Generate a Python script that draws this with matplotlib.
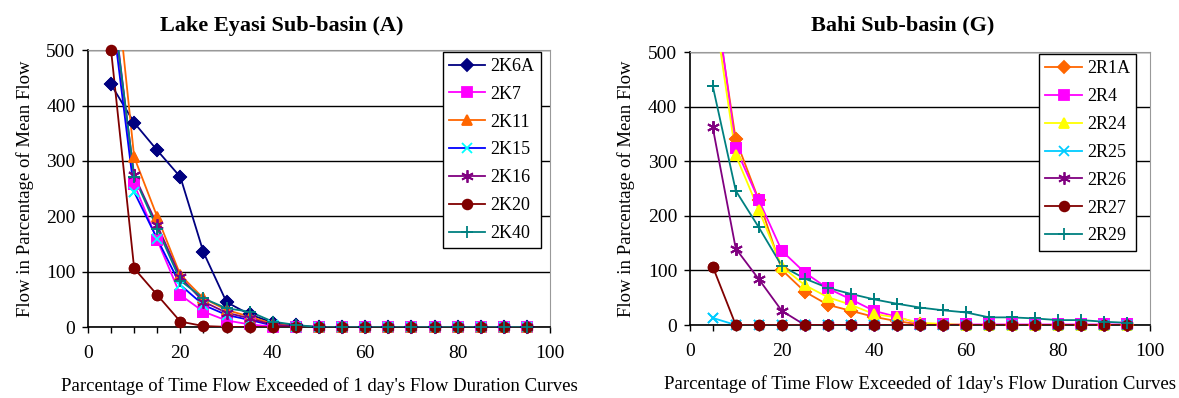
import numpy as np
import matplotlib
matplotlib.use("Agg")
import matplotlib.pyplot as plt

plt.rcParams['font.family'] = ['Liberation Serif', 'DejaVu Serif']

x = [5, 10, 15, 20, 25, 30, 35, 40, 45, 50, 55, 60, 65, 70, 75, 80, 85, 90, 95]

# Lake Eyasi Sub-basin (A)
k6a = [438, 369, 319, 271, 135, 45, 23, 8, 3, 0, 0, 0, 0, 0, 0, 0, 0, 0, 0]
k7 = [620, 258, 157, 58, 28, 12, 5, 1, 0, 0, 0, 0, 0, 0, 0, 0, 0, 0, 0]
k11 = [710, 307, 199, 94, 52, 31, 19, 6, 2, 0, 0, 0, 0, 0, 0, 0, 0, 0, 0]
k15 = [580, 244, 159, 76, 40, 22, 13, 3, 1, 0, 0, 0, 0, 0, 0, 0, 0, 0, 0]
k16 = [600, 274, 184, 90, 46, 26, 16, 4, 2, 0, 0, 0, 0, 0, 0, 0, 0, 0, 0]
k20 = [500, 106, 58, 10, 2, 0.5, 0, 0, 0, 0, 0, 0, 0, 0, 0, 0, 0, 0, 0]
k40 = [610, 271, 178, 84, 52, 34, 28, 10, 4, 0, 0, 0, 0, 0, 0, 0, 0, 0, 0]

# Bahi Sub-basin (G)
r1a = [620, 340, 229, 101, 61, 37, 26, 15, 7, 1, 0, 0, 0, 0, 0, 0, 0, 0, 0]
r4 = [640, 324, 229, 136, 96, 67, 47, 26, 15, 2, 1, 1, 1, 1, 1, 1, 1, 1, 1]
r24 = [600, 311, 211, 107, 73, 51, 37, 20, 14, 4, 2, 0, 0, 0, 0, 0, 0, 0, 0]
r25 = [13, 0, 0, 0, 0, 0, 0, 0, 0, 0, 0, 0, 0, 0, 0, 0, 0, 0, 0]
r26 = [362, 140, 84, 26, 0, 0, 0, 0, 0, 0, 0, 0, 0, 0, 0, 0, 0, 0, 0]
r27 = [107, 0, 0, 0, 0, 0, 0, 0, 0, 0, 0, 0, 0, 0, 0, 0, 0, 0, 0]
r29 = [438, 246, 179, 108, 85, 68, 57, 47, 39, 32, 27, 23, 14, 14, 12, 9, 9, 6, 4]

STAR = (6, 2, 0)

left_series = [
    ("2K6A", k6a, "#000080", "#000080", "D", 6),
    ("2K7", k7, "#FF00FF", "#FF00FF", "s", 7),
    ("2K11", k11, "#FF6600", "#FF6600", "^", 7),
    ("2K15", k15, "#0000FF", "#00FFFF", "x", 7),
    ("2K16", k16, "#800080", "#800080", STAR, 9),
    ("2K20", k20, "#800000", "#800000", "o", 7),
    ("2K40", k40, "#008080", "#008080", "+", 9),
]
right_series = [
    ("2R1A", r1a, "#FF6600", "#FF6600", "D", 6),
    ("2R4", r4, "#FF00FF", "#FF00FF", "s", 7),
    ("2R24", r24, "#FFFF00", "#FFFF00", "^", 7),
    ("2R25", r25, "#00CCFF", "#00CCFF", "x", 7),
    ("2R26", r26, "#800080", "#800080", STAR, 9),
    ("2R27", r27, "#800000", "#800000", "o", 7),
    ("2R29", r29, "#008080", "#008080", "+", 9),
]

fig = plt.figure(figsize=(11.79, 3.98), dpi=100)
ax1 = fig.add_axes([0.0746, 0.178, 0.392, 0.696])
ax2 = fig.add_axes([0.585, 0.1834, 0.3906, 0.6856])


def draw(ax, series, title, title_x, xlabel, leg_anchor):
    xa = np.array(x, dtype=float)
    handles = []
    for name, vals, lc, mc, mk, ms in series:
        v = np.array(vals, dtype=float)
        h, = ax.plot(xa, v, color=lc, lw=1.3, marker=mk, ms=ms,
                     markerfacecolor=mc, markeredgecolor=mc, mew=1.3,
                     label=name, zorder=3)
        inside = v <= 500
        ax.plot(xa[inside], v[inside], ls='none', marker=mk, ms=ms,
                markerfacecolor=mc, markeredgecolor=mc, mew=1.3,
                clip_on=False, zorder=4)
        handles.append(h)
    ax.set_xlim(0, 100)
    ax.set_ylim(0, 500)
    ax.set_xticks(range(0, 101, 20))
    ax.set_xticks(range(0, 101, 5), minor=True)
    ax.set_yticks(range(0, 501, 100))
    ax.tick_params(axis='both', which='both', direction='out', length=4,
                   width=1, labelsize=14, colors='black')
    ax.tick_params(axis='x', pad=9)
    ax.tick_params(axis='y', pad=5)
    ax.yaxis.grid(True, color='black', lw=1)
    ax.set_axisbelow(True)
    for s in ['top', 'right']:
        ax.spines[s].set_color('#999999')
    for s in ['left', 'bottom']:
        ax.spines[s].set_color('black')
        ax.spines[s].set_linewidth(1.2)
    fig.text(title_x, 0.935, title, fontsize=16, fontweight='bold',
             ha='center', va='center')
    ax.set_xlabel(xlabel, fontsize=13.5, labelpad=11)
    ax.set_ylabel("Flow in Parcentage of Mean Flow", fontsize=13.5, labelpad=9)
    leg = ax.legend(handles=handles, loc='upper right', bbox_to_anchor=leg_anchor,
                    borderaxespad=0, fontsize=13, frameon=True, fancybox=False,
                    edgecolor='black', labelspacing=0.6, handlelength=2.0,
                    handletextpad=0.3, borderpad=0.35, framealpha=1)
    leg.get_frame().set_linewidth(1)


draw(ax1, left_series, "Lake Eyasi Sub-basin (A)", 0.239,
     "Parcentage of Time Flow Exceeded of 1 day's Flow Duration Curves", (0.98, 0.995))
draw(ax2, right_series, "Bahi Sub-basin (G)", 0.766,
     "Parcentage of Time Flow Exceeded of 1day's Flow Duration Curves", (0.97, 0.993))

fig.savefig("out.png", dpi=100)
